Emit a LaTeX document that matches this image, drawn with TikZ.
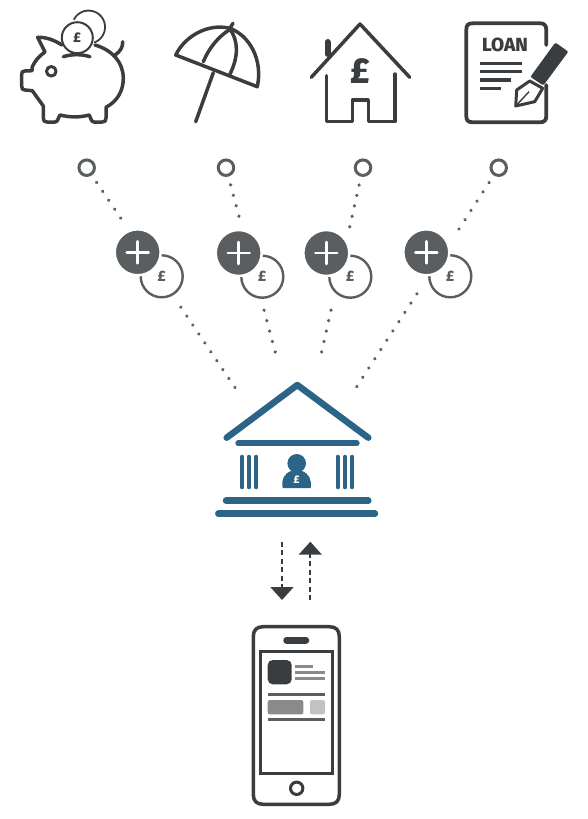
\documentclass[tikz,border=0pt]{standalone}
\usepackage{fontspec}
\setmainfont[BoldFont={Fira Sans ExtraBold}]{Fira Sans}
\usetikzlibrary{arrows.meta,positioning,calc}
\definecolor{icondark}{HTML}{3A3D40}
\definecolor{plusgrey}{HTML}{5A5E60}
\definecolor{bankblue}{HTML}{2C6488}
\definecolor{midgrey}{HTML}{8A8A8A}
\definecolor{lightgrey}{HTML}{C2C2C2}
\tikzset{
  icon/.style={draw=icondark,line width=3.5,line cap=round,line join=round},
  bank/.style={draw=bankblue,line cap=round,line join=round},
  ring/.style={circle,draw=plusgrey,fill=white,line width=3,minimum size=15.5,inner sep=0},
  dotline/.style={plusgrey,line width=3.6,line cap=round,dash pattern=on 0.01pt off #1pt,shorten <=8.5pt},
  dotline/.default=10.74,
  halo/.style={circle,fill=white,minimum size=62,inner sep=0},
  coin/.style={circle,draw=plusgrey,line width=2.4,minimum size=42,inner sep=0,text=plusgrey,font=\bfseries\fontsize{15}{15}\selectfont},
  plus/.style={circle,fill=plusgrey,draw=white,line width=2.5,minimum size=46,inner sep=0,
    path picture={\draw[white,line width=2.5,line cap=round]
      ($(path picture bounding box.center)+(-11,0)$) -- ($(path picture bounding box.center)+(11,0)$)
      ($(path picture bounding box.center)+(0,-11)$) -- ($(path picture bounding box.center)+(0,11)$);}},
  flow/.style={icondark,line width=1.9,dash pattern=on 5pt off 3.5pt,-{Triangle[length=13pt,width=23pt]}},
}
\begin{document}
\begin{tikzpicture}[x=1pt,y=-1pt]
\useasboundingbox (0,0) rectangle (588,819);
\draw[icon,line width=1.8] (74,19.3) arc[start angle=-152,end angle=68.7,radius=16.5];
\draw[icon] (62,45) .. controls (54,40) and (46,37) .. (37.7,37.3) -- (45,52) .. controls (39,56) and (35,61) .. (32.3,66.7) -- (32,70.7) -- (25,71) .. controls (22.5,71) and (21.7,72) .. (21.7,74) -- (21.7,86) .. controls (21.7,89) and (22.5,90) .. (25,90) -- (32.3,90.7) -- (43.3,106) -- (43.3,118) .. controls (43.3,121) and (44.5,122) .. (47,122) -- (55,122) .. controls (58,122) and (58,118) .. (60,115) .. controls (70,117.5) and (80,117.5) .. (89.3,115) .. controls (91,118) and (91,122) .. (94,122) -- (102,122) .. controls (105,122) and (106,121) .. (106,118) -- (106,107.3) .. controls (118,101) and (123.3,90) .. (123.3,78.3) .. controls (123.3,62) and (112,50) .. (95,45);
\draw[icon] (115,55) .. controls (120,52) and (123,47) .. (122.7,41.7);
\draw[icon] (63.3,56.7) .. controls (72,54) and (81,54) .. (90,56.7);
\draw[icon,line width=3] (51.3,71.3) circle[radius=4.8];
\node[circle,draw=icondark,line width=2,fill=white,minimum size=31,inner sep=0,text=icondark,font=\bfseries\fontsize{14}{14}\selectfont] (pigcoin) at (77.3,37.7) {£};
\draw[icon] (175.7,55) .. controls (185,36) and (208,23) .. (230,28.3) .. controls (250,36) and (263,60) .. (257.3,86.7) -- cycle;
\draw[icon] (213.3,72.7) -- (195.7,121.7);
\draw[icon] (230,28.3) -- (233,23.3);
\draw[icon] (230,29.3) .. controls (218,37) and (209,48) .. (203.3,61.7);
\draw[icon] (230,29.3) .. controls (238,40) and (239,56) .. (230,74);
\draw[icon] (311.3,77.3) -- (360,24) -- (409.7,77.3);
\draw[icon] (326.3,75.7) -- (326.3,121.7) -- (352.3,121.7) -- (352.3,100) -- (368.3,100) -- (368.3,121.7) -- (395,121.7) -- (395,74);
\draw[icon,line width=6] (327.5,42) -- (327.5,54);
\node[text=icondark,font=\bfseries\fontsize{36}{36}\selectfont] (houselabel) at (360.7,71) {£};
\draw[icon,line width=3.8] (546.3,45) -- (546.3,30) .. controls (546.3,25) and (544,23.3) .. (540,23.3) -- (473,23.3) .. controls (468,23.3) and (466.3,25) .. (466.3,30) -- (466.3,116) .. controls (466.3,120.5) and (468,122.3) .. (473,122.3) -- (540,122.3) .. controls (544,122.3) and (546.3,120.5) .. (546.3,116) -- (546.3,85);
\node[text=icondark,font=\bfseries\fontsize{19}{19}\selectfont] (loan) at (505,45) {LOAN};
\draw[icondark,line width=3.2] (479.7,63.3) -- (522.3,63.3) (479.7,71.7) -- (522.3,71.7) (479.7,80) -- (510.7,80) (479.7,88.3) -- (501.3,88.3);
\fill[icondark,draw=icondark,line width=3,line join=round] (555.7,44.5) -- (566.2,52) -- (543,83.5) -- (532.5,76.5) -- cycle;
\draw[icon,line width=3,fill=white] (529.7,81) -- (516.7,90) -- (515.7,106) -- (534.7,101.7) -- (542.7,88.3) -- cycle;
\draw[icondark,line width=1.4] (515.7,106) -- (529,91.7);
\node[ring] (ring1) at (86.7,167.7) {};
\node[ring] (ring2) at (226,167.7) {};
\node[ring] (ring3) at (363,167.7) {};
\node[ring] (ring4) at (498.7,167.7) {};
\coordinate (end1) at (235.3,388);
\coordinate (end2) at (275.2,352);
\coordinate (end3) at (321.6,352);
\coordinate (end4) at (356.5,387);
\draw[dotline] (ring1) -- (end1);
\draw[dotline=10.8] (ring2) -- (end2);
\draw[dotline=10.68] (ring3) -- (end3);
\draw[dotline=11.04] (ring4) -- (end4);
\node[halo] (halo1a) at (137.7,252.3) {};
\node[halo] (halo1b) at (161.7,276.3) {};
\node[halo] (halo2a) at (238.7,253) {};
\node[halo] (halo2b) at (262.3,276.7) {};
\node[halo] (halo3a) at (326.3,253) {};
\node[halo] (halo3b) at (350.3,276.7) {};
\node[halo,minimum size=67] (halo4a) at (426.3,252.3) {};
\node[halo] (halo4b) at (450.3,276.3) {};
\node[coin] (coin1) at (161.7,276.3) {£};
\node[plus] (plus1) at (137.7,252.3) {};
\node[coin] (coin2) at (262.3,276.7) {£};
\node[plus] (plus2) at (238.7,253) {};
\node[coin] (coin3) at (350.3,276.7) {£};
\node[plus] (plus3) at (326.3,253) {};
\node[coin] (coin4) at (450.3,276.3) {£};
\node[plus] (plus4) at (426.3,252.3) {};
\draw[bank,line width=6.5] (226.7,437.7) -- (297.3,385) -- (368.3,437.7);
\draw[bank,line width=6] (238.3,443.3) -- (356.7,443.3);
\draw[bank,line width=4] (242,456.7) -- (242,487.3) (249,456.7) -- (249,487.3) (256.3,456.7) -- (256.3,487.3);
\draw[bank,line width=4] (337.7,456.7) -- (337.7,487.3) (345,456.7) -- (345,487.3) (352,456.7) -- (352,487.3);
\draw[bank,line width=6.5] (226,500.7) -- (368.3,500.7);
\draw[bank,line width=6.5] (218.3,513.7) -- (375,513.7);
\fill[bankblue] (296.7,463.3) circle[radius=9.3];
\fill[bankblue] (282.7,488) .. controls (281,480) and (284,473.5) .. (291,471) -- (302,471) .. controls (309,473.5) and (312,480) .. (310.7,488) -- cycle;
\node[text=white,font=\bfseries\fontsize{11}{11}\selectfont] (banklabel) at (296.7,480) {£};
\coordinate (downstart) at (282,541.7);
\coordinate (downend) at (282,600);
\coordinate (upstart) at (310.3,600);
\coordinate (upend) at (310.3,541.7);
\draw[flow] (downstart) -- (downend);
\draw[flow] (upstart) -- (upend);
\draw[icon] (263.3,626.7) -- (329.3,626.7) .. controls (336,626.7) and (339.3,630) .. (339.3,636.7) -- (339.3,794.3) .. controls (339.3,801) and (336,804.3) .. (329.3,804.3) -- (263.3,804.3) .. controls (256.6,804.3) and (253.3,801) .. (253.3,794.3) -- (253.3,636.7) .. controls (253.3,630) and (256.6,626.7) .. (263.3,626.7) -- cycle;
\draw[icon,line width=6.5] (286.5,640.3) -- (306,640.3);
\draw[icondark,line width=3] (260,651) rectangle (332.7,773.3);
\draw[icon,line width=3] (296.7,788.3) circle[radius=6.2];
\fill[icondark,rounded corners=5] (267.7,660) rectangle (291.7,684.3);
\draw[midgrey,line width=3] (295,666.3) -- (312.7,666.3) (295,672.3) -- (325,672.3) (295,678.3) -- (325,678.3);
\draw[plusgrey,line width=3] (267.7,694.3) -- (325,694.3) (267.7,719.7) -- (325,719.7);
\fill[midgrey,rounded corners=2] (267.7,700) rectangle (303.3,714.3);
\fill[lightgrey,rounded corners=2] (310,700) rectangle (325,714.3);
\end{tikzpicture}
\end{document}
